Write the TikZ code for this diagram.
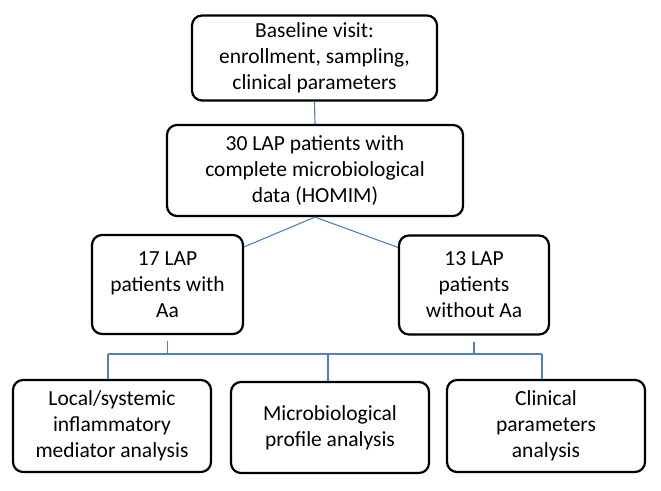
\documentclass[tikz,border=0pt]{standalone}
\usepackage{fontspec}
\setmainfont{Carlito}
\usetikzlibrary{positioning}
\definecolor{linkblue}{RGB}{79,129,189}

\tikzset{
  box/.style={draw=black, line width=2.2pt, rounded corners=10pt, align=center,
    font=\fontsize{21.5}{26}\selectfont, inner sep=0pt},
  link/.style={draw=linkblue, line width=1.1pt}
}

\begin{document}
\begin{tikzpicture}[x=1pt,y=-1pt]
\useasboundingbox (0,0) rectangle (661,490);
% top of the flow
\node[box, minimum width=245pt, minimum height=85pt] (visit) at (314.5,58)
  {Baseline visit:\\enrollment, sampling,\\clinical parameters};
\node[box, minimum width=296pt, minimum height=91pt] (lap) at (315,170.5)
  {30 LAP patients with\\complete microbiological\\data (HOMIM)};
% the two groups
\node[box, minimum width=151pt, minimum height=99pt] (with) at (167.5,284.5)
  {17 LAP\\patients with\\Aa};
\node[box, minimum width=150pt, minimum height=99pt] (without) at (474,285)
  {13 LAP\\patients\\without Aa};
% analyses
\node[box, minimum width=198pt, minimum height=92pt] (mediator) at (112,426)
  {Local/systemic\\inflammatory\\mediator analysis};
\node[box, minimum width=198pt, minimum height=91pt] (profile) at (330,427.5)
  {Microbiological\\profile analysis};
\node[box, minimum width=198pt, minimum height=92pt] (clinical) at (546,426)
  {Clinical\\parameters\\analysis};
\coordinate (bus) at (0,354);

\draw[link] (visit.south) -- (lap.north);
\draw[link] (lap.south) -- ([yshift=-13pt]with.north east);
\draw[link] (lap.south) -- ([yshift=-13pt]without.north west);
\draw[link] ([yshift=-6pt]with.south) -- (with.south |- bus);
\draw[link] ([yshift=-6pt]without.south) -- (without.south |- bus);
\draw[link] ([xshift=-4pt]mediator.north |- bus) -- ([xshift=-4pt]clinical.north |- bus);
\draw[link] ([xshift=-4pt]mediator.north) -- ([xshift=-4pt]mediator.north |- bus);
\draw[link] ([xshift=-2pt]profile.north) -- ([xshift=-2pt]profile.north |- bus);
\draw[link] ([xshift=-4pt]clinical.north) -- ([xshift=-4pt]clinical.north |- bus);
\end{tikzpicture}
\end{document}
